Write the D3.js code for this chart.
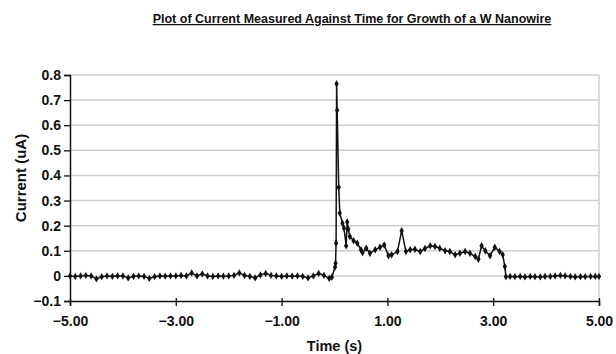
<!DOCTYPE html>
<html>
<head>
<meta charset="utf-8">
<script src="https://cdn.jsdelivr.net/npm/d3@7"></script>
<style>
  body { margin: 0; background: #fff; }
  text { font-family: "Liberation Sans", Arial, sans-serif; font-weight: bold; fill: #111; }
</style>
</head>
<body>
<svg id="chart"></svg>
<script>
// time (s)
const times = [
  -5.0, -4.9, -4.8, -4.7, -4.6, -4.5, -4.4, -4.3, -4.2, -4.1,
  -4.0, -3.9, -3.8, -3.7, -3.6, -3.5, -3.4, -3.3, -3.2, -3.1,
  -3.0, -2.9, -2.8, -2.7, -2.6, -2.5, -2.4, -2.3, -2.2, -2.1,
  -2.0, -1.9, -1.8, -1.7, -1.6, -1.5, -1.4, -1.3, -1.2, -1.1,
  -1.0, -0.9, -0.8, -0.7, -0.6, -0.5, -0.4, -0.3, -0.2, -0.1,
  -0.05, 0.01, 0.02, 0.03, 0.04, 0.05, 0.08, 0.10, 0.15, 0.18,
  0.22, 0.24, 0.26, 0.29, 0.36, 0.43, 0.50, 0.53, 0.60, 0.67,
  0.77, 0.86, 0.94, 1.02, 1.08, 1.19, 1.27, 1.35, 1.43, 1.52,
  1.62, 1.71, 1.81, 1.90, 1.99, 2.09, 2.18, 2.28, 2.37, 2.47,
  2.56, 2.66, 2.72, 2.78, 2.85, 2.94, 3.03, 3.12, 3.18, 3.22,
  3.24, 3.32, 3.41, 3.51, 3.60, 3.70, 3.79, 3.89, 3.98, 4.08,
  4.17, 4.27, 4.36, 4.46, 4.55, 4.65, 4.74, 4.84, 4.93, 5.0
];
// current (uA)
const current = [
  0.000, -0.002, 0.000, 0.002, 0.000, -0.012, -0.003, 0.000, -0.002, 0.000,
  0.000, -0.008, -0.002, 0.000, -0.002, -0.010, -0.003, 0.000, -0.001, 0.000,
  0.000, 0.002, 0.000, 0.012, 0.000, 0.008, 0.000, -0.002, 0.000, -0.001,
  0.000, 0.002, 0.012, 0.002, -0.002, -0.008, 0.004, 0.010, 0.002, 0.000,
  -0.002, 0.000, -0.001, 0.000, -0.002, -0.008, 0.000, 0.010, 0.002, -0.010,
  -0.005, 0.035, 0.050, 0.130, 0.765, 0.660, 0.353, 0.250, 0.210, 0.190,
  0.120, 0.215, 0.187, 0.157, 0.140, 0.130, 0.104, 0.093, 0.110, 0.090,
  0.104, 0.114, 0.123, 0.080, 0.084, 0.097, 0.180, 0.097, 0.104, 0.106,
  0.097, 0.109, 0.120, 0.117, 0.110, 0.100, 0.097, 0.084, 0.090, 0.097,
  0.090, 0.077, 0.066, 0.120, 0.100, 0.080, 0.114, 0.097, 0.084, 0.037,
  -0.003, -0.002, -0.003, -0.002, -0.004, -0.002, -0.003, -0.004, -0.002, -0.002,
  0.000, 0.002, 0.000, -0.002, -0.004, -0.003, -0.003, -0.002, -0.002, -0.002
];
const xTicks = [-5, -3, -1, 1, 3, 5];
const yTicks = [-0.1, 0, 0.1, 0.2, 0.3, 0.4, 0.5, 0.6, 0.7, 0.8];

const W = 616, H = 354;
const margin = { top: 75, right: 17, bottom: 53, left: 70 };
const width = W - margin.left - margin.right, height = H - margin.top - margin.bottom;

const svg = d3.select("#chart").attr("width", W).attr("height", H);

svg.append("text")
  .attr("x", 352).attr("y", 23)
  .attr("text-anchor", "middle")
  .style("font-size", "12.5px")
  .style("text-decoration", "underline")
  .text("Plot of Current Measured Against Time for Growth of a W Nanowire");

const g = svg.append("g").attr("transform", `translate(${margin.left},${margin.top})`);

const x = d3.scaleLinear().domain([-5, 5]).range([0, width]);
const y = d3.scaleLinear().domain([-0.1, 0.8]).range([height, 0]);

// gridlines
g.append("g")
  .selectAll("line")
  .data(yTicks.filter(d => d > -0.1))
  .enter().append("line")
  .attr("x1", 0).attr("x2", width)
  .attr("y1", d => y(d)).attr("y2", d => y(d))
  .attr("stroke", "#cfcfcf").attr("stroke-width", 1.5);

// right border
g.append("line")
  .attr("x1", width).attr("x2", width)
  .attr("y1", 0).attr("y2", height)
  .attr("stroke", "#cfcfcf").attr("stroke-width", 1.5);

// axes
const yAxis = g.append("g")
  .call(d3.axisLeft(y).tickValues(yTicks).tickSize(6).tickPadding(3)
    .tickFormat(d => d3.format("")(+d.toFixed(1))));
const xAxis = g.append("g")
  .attr("transform", `translate(0,${height})`)
  .call(d3.axisBottom(x).tickValues(xTicks).tickSize(5).tickPadding(10)
    .tickFormat(d3.format(".2f")));

[yAxis, xAxis].forEach(a => {
  a.select(".domain").attr("stroke", "#111").attr("stroke-width", 1.5);
  a.selectAll(".tick line").attr("stroke", "#111").attr("stroke-width", 1.3);
  a.selectAll("text").style("font-size", "14px").attr("fill", "#111")
    .style("font-family", "'Liberation Sans', Arial, sans-serif").style("font-weight", "bold");
});
xAxis.selectAll(".tick line").attr("y1", -3);

svg.append("text")
  .attr("x", margin.left + width / 2).attr("y", 351)
  .attr("text-anchor", "middle")
  .style("font-size", "14.5px")
  .text("Time (s)");

svg.append("text")
  .attr("transform", `translate(26,${margin.top + height / 2 - 10}) rotate(-90)`)
  .attr("text-anchor", "middle")
  .style("font-size", "15px")
  .text("Current (uA)");

const pts = times.map((t, i) => [t, current[i]]);

g.append("path")
  .datum(pts)
  .attr("fill", "none")
  .attr("stroke", "#111")
  .attr("stroke-width", 1.5)
  .attr("d", d3.line().x(d => x(d[0])).y(d => y(d[1])));

g.append("g")
  .selectAll("path")
  .data(pts)
  .enter().append("path")
  .attr("transform", d => `translate(${x(d[0])},${y(d[1])})`)
  .attr("d", d3.symbol().type(d3.symbolDiamond).size(16))
  .attr("fill", "#111");
</script>
</body>
</html>
